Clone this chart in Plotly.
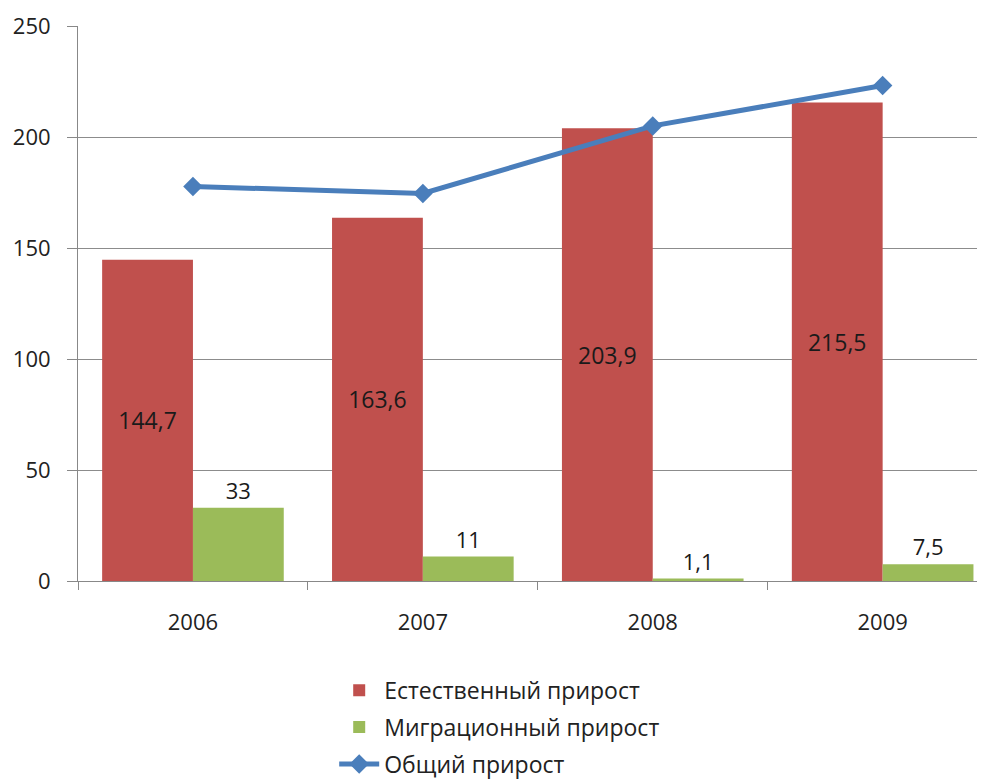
import plotly.graph_objects as go

years = ["2006", "2007", "2008", "2009"]
natural = [144.7, 163.6, 203.9, 215.5]
migration = [33, 11, 1.1, 7.5]
total = [177.7, 174.6, 205.0, 223.2]
names = ["Естественный прирост", "Миграционный прирост", "Общий прирост"]
y_ticks = [0, 50, 100, 150, 200, 250]

def fmt(v):
    return f"{v:g}".replace(".", ",")

FONT = "Open Sans"
TXT = "#222"
fig = go.Figure()
fig.add_trace(go.Bar(
    x=years, y=natural, name=names[0], legendgroup="a",
    marker=dict(color="#C0504D", line=dict(width=0)),
    text=[fmt(v) for v in natural], textposition="inside", insidetextanchor="middle",
    textfont=dict(color="#1a1a1a", size=23, family=FONT), textangle=0,
))
fig.add_trace(go.Bar(
    x=years, y=migration, name=names[1], legendgroup="b",
    marker=dict(color="#9BBB59", line=dict(width=0)),
    text=[fmt(v) for v in migration],
    textposition="outside",
    textfont=dict(color="#1a1a1a", size=22, family=FONT), textangle=0, cliponaxis=False,
))
fig.add_trace(go.Scatter(
    x=years, y=total, name=names[2], legendgroup="c", mode="lines+markers",
    line=dict(color="#4A7EBB", width=5),
    marker=dict(symbol="diamond", size=15, color="#4A7EBB"),
))

fig.update_layout(
    width=985, height=783,
    margin=dict(l=70, r=0, t=18, b=210, autoexpand=False),
    paper_bgcolor="white", plot_bgcolor="white",
    barmode="group", bargap=0.21, bargroupgap=0,
    font=dict(family=FONT, size=22, color=TXT),
    showlegend=True,
    legend=dict(orientation="v", x=0.28, xanchor="left", y=-0.158, yanchor="top",
                font=dict(size=23, family=FONT, color=TXT), tracegroupgap=4,
                itemwidth=40, traceorder="grouped"),
    uniformtext=dict(mode=False),
)
fig.update_xaxes(
    type="category", range=[-0.5, 3.48], automargin=False,
    showline=True, linecolor="#888", linewidth=1,
    ticks="outside", tickson="boundaries", ticklen=8, tickcolor="#888",
    ticklabelstandoff=22,
    showgrid=False, tickfont=dict(size=22, family=FONT, color=TXT),
)
fig.update_yaxes(
    range=[0, 250], tickvals=y_ticks, automargin=False,
    showline=True, linecolor="#888", linewidth=1,
    ticks="outside", ticklen=10, tickcolor="#888",
    ticklabelstandoff=12,
    showgrid=True, gridcolor="#8c8c8c", gridwidth=1, zeroline=False,
    tickfont=dict(size=22, family=FONT, color=TXT),
)
fig.write_html("out.html")
